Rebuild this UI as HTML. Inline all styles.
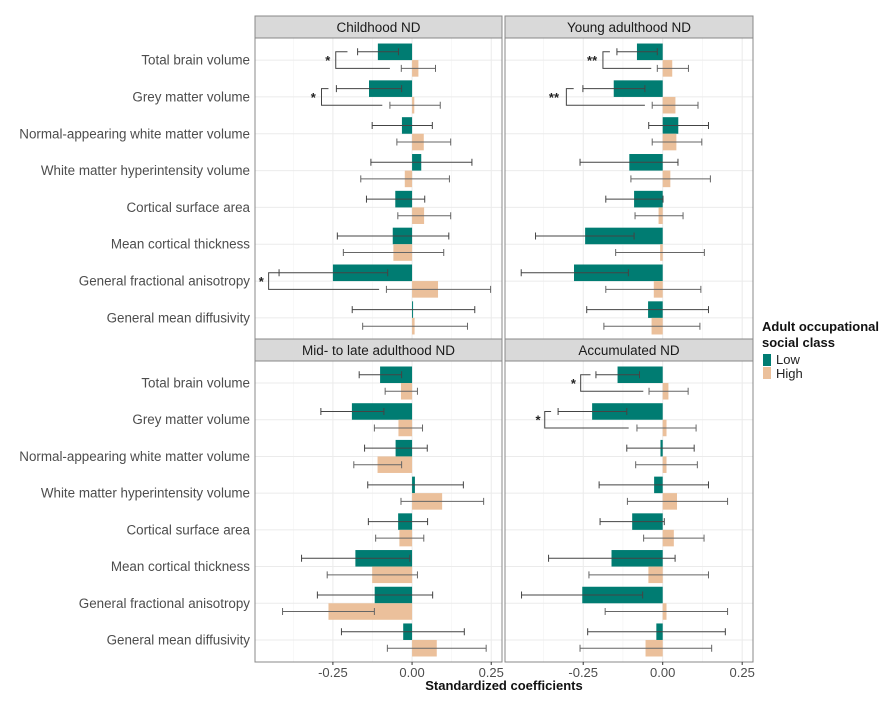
<!DOCTYPE html>
<html><head><meta charset="utf-8">
<style>
body{margin:0;background:#fff;}
svg text{font-family:"Liberation Sans",Arial,sans-serif;}
</style></head>
<body>
<svg id="chart" width="891" height="697" xmlns="http://www.w3.org/2000/svg"></svg>
<script>
const categories=["Total brain volume","Grey matter volume","Normal-appearing white matter volume","White matter hyperintensity volume","Cortical surface area","Mean cortical thickness","General fractional anisotropy","General mean diffusivity"];
const panelTitles=["Childhood ND","Young adulthood ND","Mid- to late adulthood ND","Accumulated ND"];
const xTicks=[-0.25,0,0.25];
const xTickLabels=["-0.25","0.00","0.25"];
const lowVals=[
[-0.108,-0.136,-0.032,0.029,-0.053,-0.061,-0.25,0.003],
[-0.081,-0.154,0.049,-0.105,-0.09,-0.244,-0.279,-0.046],
[-0.101,-0.19,-0.052,0.009,-0.044,-0.179,-0.118,-0.028],
[-0.142,-0.222,-0.007,-0.027,-0.096,-0.161,-0.253,-0.02]];
const lowLo=[
[-0.172,-0.239,-0.126,-0.13,-0.144,-0.236,-0.42,-0.189],
[-0.144,-0.251,-0.044,-0.26,-0.179,-0.4,-0.445,-0.239],
[-0.167,-0.288,-0.15,-0.14,-0.138,-0.349,-0.299,-0.223],
[-0.21,-0.329,-0.113,-0.2,-0.197,-0.359,-0.444,-0.236]];
const lowHi=[
[-0.043,-0.033,0.064,0.189,0.04,0.116,-0.077,0.198],
[-0.017,-0.056,0.144,0.048,0.001,-0.09,-0.108,0.144],
[-0.033,-0.089,0.048,0.162,0.049,-0.007,0.065,0.165],
[-0.073,-0.113,0.099,0.144,0.005,0.039,-0.063,0.197]];
const highVals=[
[0.02,0.007,0.037,-0.023,0.038,-0.059,0.082,0.008],
[0.03,0.04,0.043,0.024,-0.013,-0.008,-0.028,-0.035],
[-0.035,-0.043,-0.109,0.095,-0.04,-0.126,-0.264,0.078],
[0.018,0.012,0.012,0.045,0.035,-0.045,0.012,-0.054]];
const highLo=[
[-0.034,-0.07,-0.048,-0.162,-0.045,-0.217,-0.081,-0.156],
[-0.017,-0.033,-0.033,-0.1,-0.087,-0.148,-0.179,-0.185],
[-0.085,-0.119,-0.184,-0.035,-0.115,-0.268,-0.409,-0.078],
[-0.043,-0.081,-0.085,-0.111,-0.06,-0.232,-0.181,-0.26]];
const highHi=[
[0.074,0.089,0.122,0.118,0.122,0.1,0.248,0.175],
[0.081,0.111,0.123,0.15,0.064,0.131,0.12,0.117],
[0.017,0.033,-0.033,0.226,0.037,0.017,-0.119,0.234],
[0.08,0.105,0.109,0.204,0.13,0.144,0.204,0.154]];
const sigPanel=[0,0,0,1,1,3,3];
const sigRow=[0,1,6,0,1,0,1];
const sigX=[-0.241,-0.286,-0.453,-0.188,-0.303,-0.258,-0.371];
const sigTop=[-0.204,-0.264,-0.42,-0.166,-0.28,-0.227,-0.351];
const sigBottom=[-0.07,-0.094,-0.104,-0.036,-0.056,-0.061,-0.107];
const sigLabelX=[-0.266,-0.312,-0.476,-0.222,-0.342,-0.281,-0.392];
const sigLabels=["*","*","*","**","**","*","*"];

const svg=document.getElementById('chart');
const NS="http://www.w3.org/2000/svg";
function mk(tag,attrs,parent){const e=document.createElementNS(NS,tag);for(const k in attrs)e.setAttribute(k,attrs[k]);(parent||svg).appendChild(e);return e;}
const DMIN=-0.496,DMAX=0.284;
const panels=[{x0:255,x1:502,y0:38,y1:340},{x0:505,x1:753,y0:38,y1:340},{x0:255,x1:502,y0:361,y1:662},{x0:505,x1:753,y0:361,y1:662}];
function xs(p,v){return p.x0+(v-DMIN)/(DMAX-DMIN)*(p.x1-p.x0);}
function band(p){return (p.y1-p.y0)/8.2;}
function yc(p,i){return p.y0+band(p)*(0.6+i);}
const TEAL="#007c72",TAN="#ebc09b";

panels.forEach((p,pi)=>{
  const g=mk('g',{});
  
  
  mk('rect',{x:p.x0,y:p.y0,width:p.x1-p.x0,height:p.y1-p.y0,fill:'#fff'},g);
  [-0.375,-0.125,0.125].forEach(v=>{const l=mk('line',{x1:xs(p,v),x2:xs(p,v),y1:p.y0,y2:p.y1,stroke:'#f4f4f4','stroke-width':0.7},g);});
  xTicks.forEach(v=>{const l=mk('line',{x1:xs(p,v),x2:xs(p,v),y1:p.y0,y2:p.y1,stroke:'#ebebeb','stroke-width':1},g);});
  categories.forEach((c,i)=>{const l=mk('line',{x1:p.x0,x2:p.x1,y1:yc(p,i),y2:yc(p,i),stroke:'#ebebeb','stroke-width':1},g);});
  const st=mk('rect',{x:p.x0,y:p.y0-22,width:p.x1-p.x0,height:22,fill:'#d9d9d9',stroke:'#888','stroke-width':1},g);
  
  const tt=mk('text',{x:(p.x0+p.x1)/2,y:p.y0-6,'text-anchor':'middle','font-size':13.5,fill:'#1a1a1a'},g);
  tt.textContent=panelTitles[pi];
  
  const bw=band(p)*0.45;
  const z=xs(p,0);
  categories.forEach((c,i)=>{
    const y=yc(p,i);
    const lv=lowVals[pi][i],hv=highVals[pi][i];
    const b1=mk('rect',{x:Math.min(z,xs(p,lv)),y:y-bw,width:Math.max(1,Math.abs(xs(p,lv)-z)),height:bw,fill:TEAL},g);
    
    const b2=mk('rect',{x:Math.min(z,xs(p,hv)),y:y,width:Math.max(1,Math.abs(xs(p,hv)-z)),height:bw,fill:TAN},g);
    
    [[lowLo,lowHi,y-bw/2,'#444'],[highLo,highHi,y+bw/2,'#666']].forEach(([lo,hi,yy,col])=>{
      const a=xs(p,lo[pi][i]),b=xs(p,hi[pi][i]);
      const e=mk('path',{d:`M${a},${yy}H${b}M${a},${yy-3.5}V${yy+3.5}M${b},${yy-3.5}V${yy+3.5}`,stroke:col,'stroke-width':1,fill:'none'},g);
      
    });
  });
  mk('rect',{x:p.x0,y:p.y0,width:p.x1-p.x0,height:p.y1-p.y0,fill:'none',stroke:'#888','stroke-width':1},g);
  if(pi%2===0){
    categories.forEach((c,i)=>{const t=mk('text',{x:p.x0-5,y:yc(p,i)+4.5,'text-anchor':'end','font-size':13.4,fill:'#4d4d4d'});t.textContent=c;
    });
  }
  if(pi>=2){
    xTicks.forEach((v,k)=>{const t=mk('text',{x:xs(p,v),y:p.y1+15,'text-anchor':'middle','font-size':13,fill:'#4d4d4d'});t.textContent=xTickLabels[k];
    
    mk('line',{x1:xs(p,v),x2:xs(p,v),y1:p.y1,y2:p.y1+3,stroke:'#333'});});
  }
});
sigLabels.forEach((lab,k)=>{
  const p=panels[sigPanel[k]];const bw=band(p)*0.45;const y=yc(p,sigRow[k]);
  const yt=y-bw/2,yb=y+bw/2;
  const bx=xs(p,sigX[k]);
  const br=mk('path',{d:`M${xs(p,sigTop[k])},${yt}H${bx}V${yb}H${xs(p,sigBottom[k])}`,stroke:'#444','stroke-width':1,fill:'none'});
  
  const t=mk('text',{x:xs(p,sigLabelX[k]),y:y+5,'text-anchor':'middle','font-size':13,'font-weight':'bold',fill:'#222'});
  t.textContent=lab;
  
});
const xt=mk('text',{x:504,y:690,'text-anchor':'middle','font-size':13,'font-weight':'bold',fill:'#111'});
xt.textContent='Standardized coefficients';

const lg=mk('g',{});

const l1=mk('text',{x:762,y:331,'font-size':13,'font-weight':'bold',fill:'#111'},lg);l1.textContent='Adult occupational';
const l2=mk('text',{x:762,y:347,'font-size':13,'font-weight':'bold',fill:'#111'},lg);l2.textContent='social class';
const k1=mk('rect',{x:763,y:354,width:8,height:12,fill:TEAL},lg);

const k2=mk('rect',{x:763,y:367,width:8,height:12,fill:TAN},lg);

const t1=mk('text',{x:776,y:364,'font-size':13,fill:'#222'},lg);t1.textContent='Low';
const t2=mk('text',{x:776,y:378,'font-size':13,fill:'#222'},lg);t2.textContent='High';
</script>
</body></html>
